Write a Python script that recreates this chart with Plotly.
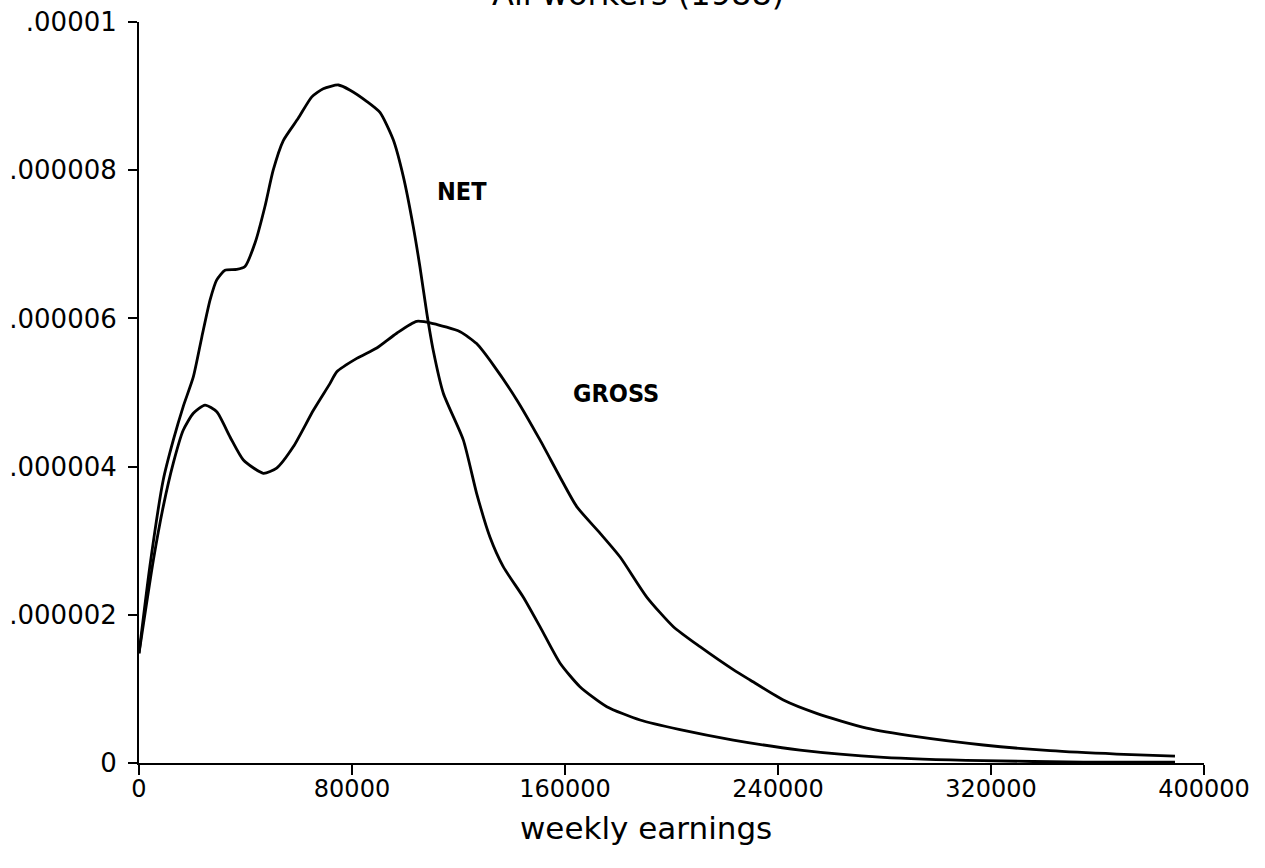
import plotly.graph_objects as go

# Values (density values in units of 1e-6)
net_x = [0, 4100, 9100, 12900, 16600, 20400, 23600, 26700, 29200, 32300, 36700, 39800,
         43600, 47300, 50400, 54200, 59800, 64900, 69200, 74900, 79300, 85500, 90500,
         95500, 99300, 103000, 105500, 108100, 110500, 114300, 121800, 126800, 131800,
         136800, 144300, 150600, 158100, 165600, 175700, 188200, 203200, 223200, 248300,
         279600, 317100, 354700, 389100]
net_y = [1.48, 2.66, 3.82, 4.36, 4.81, 5.21, 5.75, 6.25, 6.52, 6.65, 6.66, 6.70,
         7.02, 7.51, 8.00, 8.40, 8.70, 8.99, 9.10, 9.15, 9.08, 8.93, 8.78,
         8.41, 7.91, 7.24, 6.70, 6.07, 5.57, 4.99, 4.36, 3.64, 3.05,
         2.65, 2.24, 1.84, 1.35, 1.03, 0.76, 0.58, 0.45, 0.31, 0.175,
         0.077, 0.031, 0.013, 0.013]

gross_x = [0, 5400, 9100, 12900, 16600, 20400, 24800, 29200, 34200, 39200, 46700, 51700,
           58000, 65500, 71700, 74300, 81800, 89300, 96800, 104300, 110500, 120600,
           126800, 133100, 141900, 150600, 158100, 164400, 173200, 180700, 190700,
           200700, 210700, 223200, 229500, 242000, 254500, 273300, 292100, 317100,
           342200, 367200, 389100]
gross_y = [1.48, 2.74, 3.46, 4.05, 4.49, 4.72, 4.83, 4.74, 4.40, 4.09, 3.91, 3.98,
           4.27, 4.76, 5.12, 5.28, 5.46, 5.60, 5.80, 5.96, 5.93, 5.82,
           5.66, 5.37, 4.90, 4.36, 3.86, 3.46, 3.10, 2.78, 2.24,
           1.84, 1.57, 1.26, 1.12, 0.85, 0.67, 0.47, 0.355, 0.243,
           0.166, 0.121, 0.094]

x_ticks = [0, 80000, 160000, 240000, 320000, 400000]
x_ticklabels = ["0", "80000", "160000", "240000", "320000", "400000"]
y_ticks = [0, 2e-6, 4e-6, 6e-6, 8e-6, 1e-5]
y_ticklabels = ["0", ".000002", ".000004", ".000006", ".000008", ".00001"]

title_text = "All workers (1988)"
x_title = "weekly earnings"
series_labels = [("NET", 121300, 7.71), ("GROSS", 179000, 4.98)]

SCALE = 1e-6

fig = go.Figure()
for xs, ys, name in [(net_x, net_y, "NET"), (gross_x, gross_y, "GROSS")]:
    fig.add_trace(go.Scatter(
        x=xs, y=[v * SCALE for v in ys], mode="lines", name=name,
        line=dict(color="black", width=2.8, shape="spline", smoothing=0.6),
        showlegend=False, hoverinfo="skip"))

for text, lx, ly in series_labels:
    fig.add_annotation(x=lx, y=ly * SCALE, xref="x", yref="y", text=text,
                       showarrow=False,
                       font=dict(family="DejaVu Sans Condensed, DejaVu Sans", size=25,
                                 color="black", weight="bold"))

fig.add_annotation(x=190400, y=-0.088, xref="x", yref="paper", text=x_title,
                   showarrow=False, yanchor="middle",
                   font=dict(family="DejaVu Sans", size=31, color="black"))

fig.add_annotation(x=187400, y=1.038, xref="x", yref="paper", text=title_text,
                   showarrow=False, yanchor="middle",
                   font=dict(family="DejaVu Sans", size=32, color="black"))

fig.update_layout(
    width=1265, height=868,
    margin=dict(l=139, r=61, t=22, b=105),
    paper_bgcolor="white", plot_bgcolor="white",
    font=dict(family="DejaVu Sans", color="black"),
    xaxis=dict(range=[0, 400000], tickvals=x_ticks, ticktext=x_ticklabels,
               showline=True, linecolor="black", linewidth=2,
               ticks="outside", ticklen=10, tickwidth=2, tickcolor="black",
               showgrid=False, zeroline=False, automargin=False,
               ticklabelstandoff=-7,
               tickfont=dict(family="DejaVu Sans", size=24, color="black")),
    yaxis=dict(range=[0, 1e-5], tickvals=y_ticks, ticktext=y_ticklabels,
               showline=True, linecolor="black", linewidth=2,
               ticks="outside", ticklen=9, tickwidth=2, tickcolor="black",
               showgrid=False, zeroline=False, automargin=False,
               ticklabelstandoff=6,
               tickfont=dict(family="DejaVu Sans", size=26, color="black")),
)

fig.write_html("out.html", config={"displayModeBar": False},
               post_script="document.body.style.margin='0';")
